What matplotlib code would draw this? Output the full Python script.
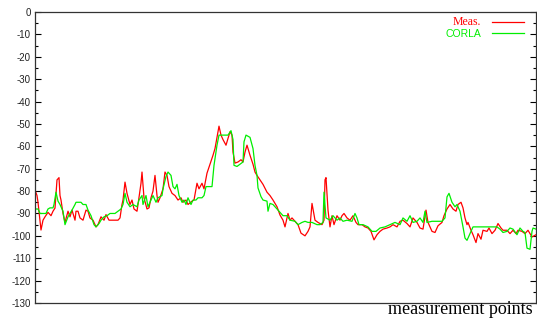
import matplotlib
matplotlib.use("Agg")
import matplotlib.pyplot as plt
from matplotlib.ticker import MultipleLocator, NullLocator

plt.rcParams["axes.unicode_minus"] = False

# measured signal level (dB) vs measurement point
meas_pts = [0, 2, 3, 6, 8, 10, 13, 16, 18, 20, 22, 24, 25, 26, 28, 30, 33, 35, 37,
            40, 41, 43, 45, 48, 51, 53, 55, 58, 61, 63, 66, 69, 71, 74, 76, 80,
            83, 85, 87, 88, 90, 92, 95, 97, 99, 102, 103, 106, 107, 109, 112,
            114, 116, 118, 120, 122, 123, 125, 128, 130, 132, 134, 137, 140,
            143, 146, 148, 151, 153, 157, 159, 162, 164, 167, 169, 172, 175,
            178, 180, 182, 184, 186, 188, 191, 192, 195, 197, 198, 200, 203,
            206, 208, 210, 212, 213, 215, 218, 220, 222, 225, 228, 232, 235,
            238, 242, 245, 248, 250, 253, 255, 257, 259, 263, 266, 270, 273,
            275, 277, 280, 283, 287, 289, 290, 291, 293, 295, 297, 299, 302,
            305, 307, 309, 312, 315, 318, 321, 323, 327, 330, 333, 336, 339,
            342, 345, 348, 352, 355, 358, 362, 365, 368, 372, 375, 378, 382,
            385, 388, 391, 393, 397, 400, 403, 407, 409, 412, 415, 418, 421,
            423, 426, 428, 430, 432, 433, 436, 438, 441, 443, 446, 448, 452,
            454, 457, 460, 463, 466, 468, 472, 475, 478, 481, 483, 487, 490,
            493, 497, 501]
meas_db = [-79.5, -82, -85, -97.4, -93, -91.5, -89.5, -91, -89, -87.6, -75, -74,
           -82, -84, -90, -94, -89, -91.5, -88.5, -93, -89, -89, -92, -93,
           -88.5, -89, -92, -93, -96, -95, -91.5, -93, -90.5, -93, -93, -93,
           -93, -92, -86, -84, -76, -81, -86, -84, -88, -89, -86, -76.5, -71.5,
           -83, -88, -87.5, -83, -80, -73, -82, -85, -83, -79, -71.5, -73,
           -78, -81, -82, -84, -83, -85, -84, -86, -84.5, -84, -76.5, -79,
           -76.5, -79, -72, -68, -64, -61, -56, -51, -55, -57, -59.5, -58,
           -53.5, -55, -62.6, -67.5, -67, -66, -67, -62.6, -59.5, -61, -64,
           -68, -71.5, -73, -75, -77, -80.5, -82, -84, -87, -90.7, -93, -96,
           -90, -93, -92, -93, -95, -98.8, -100, -98, -96, -85.5, -93, -94,
           -95, -93, -75, -74, -88.5, -96, -91, -95, -91, -93, -91, -90, -92,
           -93, -91, -94, -95, -95, -96, -96.5, -98, -101.8, -99.5, -98, -97,
           -96.5, -96, -95, -96, -93.5, -93, -94.5, -96, -92, -94, -96.5, -97,
           -88.5, -94, -98, -98.5, -95.5, -94, -91, -88, -86, -88, -89, -86,
           -85, -87.5, -92, -95, -94, -97.5, -99.5, -103, -99, -101.5, -97.5,
           -98, -96.5, -99, -97.5, -94.5, -96.5, -97.5, -97.5, -99, -97.5, -99,
           -97.5, -98, -99, -97.5, -100.5, -99.5]

# CORLA prediction
corla_pts = [0, 3, 5, 11, 13, 15, 18, 19, 21, 23, 25, 28, 30, 33, 35, 37, 40,
             41, 46, 48, 51, 53, 56, 59, 61, 64, 66, 69, 72, 75, 80, 83, 86, 88,
             90, 92, 95, 98, 102, 104, 107, 108, 111, 113, 116, 118, 121, 123,
             127, 128, 131, 133, 136, 138, 140, 142, 144, 147, 149, 151, 153,
             156, 158, 161, 163, 167, 169, 171, 177, 179, 182, 184, 193, 196,
             198, 199, 202, 205, 208, 209, 211, 215, 218, 220, 222, 223, 226,
             228, 232, 233, 235, 238, 242, 245, 248, 252, 255, 260, 263, 267,
             270, 273, 277, 282, 285, 288, 289, 291, 295, 298, 302, 305, 308,
             312, 317, 320, 322, 324, 328, 333, 337, 341, 345, 350, 355, 360,
             365, 368, 372, 375, 378, 382, 385, 388, 390, 392, 397, 402, 407,
             410, 412, 414, 417, 420, 422, 425, 428, 430, 432, 435, 438, 445,
             452, 457, 462, 465, 468, 472, 475, 478, 482, 485, 488, 490, 492,
             495, 497, 498, 501]
corla_db = [-88, -88, -90, -90, -88, -87.5, -87.5, -86, -80.5, -84.5, -86, -89,
            -95, -91.5, -90, -88.5, -86, -85, -85, -86, -86, -88.5, -91, -95,
            -96, -94.5, -93, -91.5, -91, -90, -90, -89, -88, -86, -81, -85,
            -87, -86, -87, -84, -82, -86, -82, -87, -84, -82, -85, -83, -82,
            -79, -73.5, -71.5, -73, -78, -79, -77, -82, -85, -84, -86, -83,
            -86, -84, -84, -83, -83, -82, -78, -78, -68.5, -59.5, -55, -55,
            -53, -57, -68.5, -69, -68, -67, -58, -55, -56, -61, -68.5, -73,
            -78.6, -82.5, -84, -84.5, -89, -85.5, -86, -88, -89.5, -91, -91,
            -93, -93.5, -95, -94, -93.5, -94, -94, -95, -95, -94, -80.5, -92,
            -93, -91, -93, -92, -93.5, -93, -93.5, -90, -92, -95, -95, -96,
            -98, -98, -96.5, -96, -95, -94, -95, -92, -93.5, -91, -94, -93.5,
            -92, -94, -89, -94, -93.5, -93.5, -93.5, -92, -82.6, -81, -85, -87,
            -86, -89, -96, -101, -102, -99, -96, -96, -96, -96, -96, -97, -98.5,
            -98, -96.5, -97, -99.5, -96.5, -98, -98.5, -105.5, -106, -98, -96.5,
            -97]

fig = plt.figure(figsize=(5.37, 3.2), dpi=100)
ax = fig.add_axes([35 / 537, 17 / 320, 501 / 537, 291 / 320])

ax.plot(meas_pts, meas_db, color="#ff0000", lw=0.9, label="Meas.")
ax.plot(corla_pts, corla_db, color="#00ee00", lw=0.9, label="CORLA")

ax.set_xlim(0, 501)
ax.set_ylim(-130, 0)
ax.xaxis.set_major_locator(NullLocator())
ax.yaxis.set_major_locator(MultipleLocator(10))
ax.yaxis.set_minor_locator(MultipleLocator(5))
ax.tick_params(axis="y", which="both", direction="in", left=True, right=True,
               labelsize=7, pad=3, labelcolor="#222222")
ax.tick_params(axis="y", which="major", length=4, width=0.8)
ax.tick_params(axis="y", which="minor", length=2, width=0.8)
for lab in ax.get_yticklabels():
    lab.set_fontfamily("Liberation Sans")
for s in ax.spines.values():
    s.set_linewidth(0.9)
    s.set_color("#333333")

leg = ax.legend(loc="upper right", bbox_to_anchor=(1 - 8 / 501, 1),
                markerfirst=False, frameon=False, handlelength=2.8,
                handletextpad=1.0, labelspacing=0.05, borderaxespad=0,
                fontsize=8)
t_meas, t_corla = leg.get_texts()
t_meas.set_color("#ff0000")
t_meas.set_fontfamily("Liberation Serif")
t_meas.set_fontsize(8.5)
t_corla.set_color("#00ee00")
t_corla.set_fontfamily("Liberation Sans")
t_corla.set_fontsize(7.5)

fig.text(533 / 537, 2 / 320, "measurement points", ha="right", va="bottom",
         fontsize=13, family="Liberation Serif")

fig.savefig("out.png", dpi=100)
